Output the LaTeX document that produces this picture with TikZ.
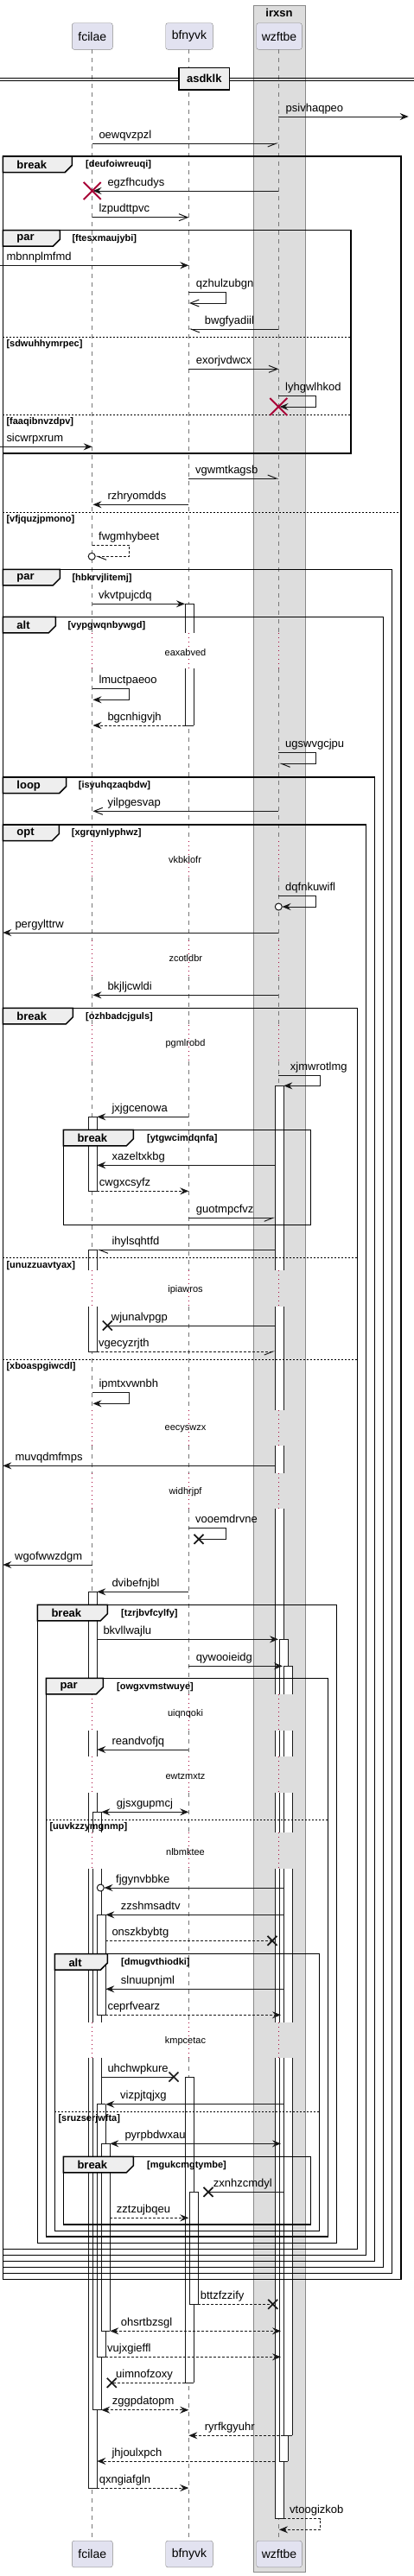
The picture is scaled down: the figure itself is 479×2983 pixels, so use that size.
\documentclass[tikz,border=0pt]{standalone}
\usepackage{fontspec}
\setmainfont{Liberation Sans}
\usetikzlibrary{arrows.meta}

\definecolor{partfill}{HTML}{E2E2F0}
\definecolor{partline}{HTML}{888888}
\definecolor{boxfill}{HTML}{DDDDDD}
\definecolor{tabfill}{HTML}{EEEEEE}
\definecolor{crimson}{HTML}{A80036}
\definecolor{lifegray}{HTML}{777777}
\definecolor{ink}{HTML}{181818}

\tikzset{
  partbox/.style={draw=partline, fill=partfill, rounded corners=2.5pt, minimum height=30.6pt, inner sep=0pt, font=\fontsize{14}{16}\selectfont},
  lifeline/.style={draw=lifegray, dash pattern=on 5pt off 5pt, line width=0.8pt},
  delayline/.style={draw=crimson, dash pattern=on 1pt off 4pt, line width=1pt},
  actline/.style={draw=ink, line width=1pt},
  msg/.style={draw=ink, line width=1pt},
  dashmsg/.style={msg, dash pattern=on 3pt off 2pt},
  arfull/.style={-{Stealth[length=10pt,width=8pt,inset=3.5pt]}},
  arboth/.style={{Stealth[length=10pt,width=8pt,inset=3.5pt]}-{Stealth[length=10pt,width=8pt,inset=3.5pt]}},
  aropen/.style={-{Straight Barb[length=10pt,width=8pt]}},
  halfE/.style={-{Straight Barb[harpoon,swap,length=10pt,width=8pt]}},
  halfEup/.style={-{Straight Barb[harpoon,length=10pt,width=8pt]}},
  halfW/.style={-{Straight Barb[harpoon,length=10pt,width=8pt]}},
  lbl/.style={anchor=base west, inner sep=0pt, font=\fontsize{13}{15}\selectfont},
  delaytxt/.style={inner sep=0pt, font=\fontsize{11}{13}\selectfont},
  grpline/.style={draw=black, line width=1.5pt},
  grptab/.style={draw=black, line width=1.5pt, fill=tabfill},
  grpkind/.style={inner sep=0pt, font=\bfseries\fontsize{13}{15}\selectfont},
  grpguard/.style={inner sep=0pt, font=\bfseries\fontsize{11}{13}\selectfont},
  grpsep/.style={draw=black, line width=0.8pt, dash pattern=on 2pt off 2pt},
  redx/.style={draw=crimson, line width=2pt},
  lostx/.style={draw=ink, line width=1.7pt}
}

% activation bar piece: x, top, bottom, top edge?, bottom edge?
\newcommand{\actseg}[5]{%
  \fill[white] (#1,#2) rectangle ({#1+10},#3);
  \draw[actline] (#1,#2) -- (#1,#3) ({#1+10},#2) -- ({#1+10},#3);
  \ifnum#4=1 \draw[actline] (#1,#2) -- ({#1+10},#2);\fi
  \ifnum#5=1 \draw[actline] (#1,#3) -- ({#1+10},#3);\fi}
% group frame: x1, x2, top, bottom, tab width, kind, guard, guard x
\newcommand{\grp}[8]{%
  \draw[grpline] (#1,#3) rectangle (#2,#4);
  \filldraw[grptab] (#1,#3) -- ({#1+#5},#3) -- ({#1+#5},{#3+10.5}) -- ({#1+#5-8},{#3+18.5}) -- (#1,{#3+18.5}) -- cycle;
  \node[grpkind, anchor=west] (#7k) at ({#1+16},{#3+10}) {#6};
  \node[grpguard, anchor=west] (#7) at (#8,{#3+10}) {[#7]};}
% else line: x1, x2, y, guard
\newcommand{\grpelse}[4]{%
  \draw[grpsep] (#1,#3) -- (#2,#3);
  \node[grpguard, anchor=west] (#4) at ({#1+4},{#3+8.5}) {[#4]};}
\newcommand{\redcross}[2]{\draw[redx] ({#1-10},{#2-10}) -- ({#1+10},{#2+10}) ({#1-10},{#2+10}) -- ({#1+10},{#2-10});}
\newcommand{\lostcross}[2]{\draw[lostx] ({#1-5.5},{#2-5.5}) -- ({#1+5.5},{#2+5.5}) ({#1-5.5},{#2+5.5}) -- ({#1+5.5},{#2-5.5});}

\begin{document}
\begin{tikzpicture}[x=1pt,y=-1pt]
  \useasboundingbox (0,0) rectangle (479,2983);

  % box round wzftbe
  \filldraw[fill=boxfill, draw=partline] (292.7,6) rectangle (353.3,2978.3);
  \node[grpkind] (irxsn) at (323,15) {irxsn};

  % participants
  \node[partbox, minimum width=47pt] (fcTop) at (106.8,42) {fcilae};
  \node[partbox, minimum width=54.6pt] (bfTop) at (219,42) {bfnyvk};
  \node[partbox, minimum width=52.6pt] (wzTop) at (323,42) {wzftbe};
  \node[partbox, minimum width=47pt] (fcBot) at (106.8,2957.5) {fcilae};
  \node[partbox, minimum width=54.6pt] (bfBot) at (219,2957.5) {bfnyvk};
  \node[partbox, minimum width=52.6pt] (wzBot) at (323,2957.5) {wzftbe};

  % lifelines, dotted where a delay is
  \foreach \lx in {106.7,218.3,322.3}{
    \foreach \a/\b in {57.3/733.3,774/974,1016/1089,1131/1187,1229/1471,1513/1633,1674/1706,1747/1962,2004/2034,2076/2122,2164/2342,2383/2941.7}
      \draw[lifeline] (\lx,\a) -- (\lx,\b);
    \foreach \a/\b in {733.3/774,974/1016,1089/1131,1187/1229,1471/1513,1633/1674,1706/1747,1962/2004,2034/2076,2122/2164,2342/2383}
      \draw[delayline] (\lx,\a) -- (\lx,\b);
  }

  % activations fcilae
  \actseg{102.3}{1293.3}{1379.3}{1}{1}
  \actseg{102.3}{1447.3}{1471}{1}{0}
  \actseg{102.3}{1513}{1565}{0}{1}
  \actseg{102.3}{1843.3}{1962}{1}{0}
  \actseg{102.3}{2004}{2034}{0}{0}
  \actseg{102.3}{2076}{2122}{0}{0}
  \actseg{102.3}{2164}{2342}{0}{0}
  \actseg{102.3}{2383}{2881}{0}{1}
  \actseg{107.3}{2098.3}{2122}{1}{0}
  \actseg{107.3}{2164}{2342}{0}{0}
  \actseg{107.3}{2383}{2790.7}{0}{1}
  \actseg{112.3}{2217.3}{2333.3}{1}{1}
  \actseg{112.3}{2436.7}{2729.3}{1}{1}
  \actseg{117.3}{2482.3}{2699.3}{1}{1}
  % activations bfnyvk
  \actseg{214}{699.3}{733.3}{1}{0}
  \actseg{214}{774}{840}{0}{1}
  \actseg{214}{2405}{2759.3}{1}{1}
  \actseg{219}{2538.3}{2668.3}{1}{1}
  % activations wzftbe
  \actseg{318.3}{1257.3}{1471}{1}{0}
  \actseg{318.3}{1513}{1633}{0}{0}
  \actseg{318.3}{1674}{1706}{0}{0}
  \actseg{318.3}{1747}{1962}{0}{0}
  \actseg{318.3}{2004}{2034}{0}{0}
  \actseg{318.3}{2076}{2122}{0}{0}
  \actseg{318.3}{2164}{2342}{0}{0}
  \actseg{318.3}{2383}{2916.7}{0}{1}
  \actseg{323.3}{1898.3}{1962}{1}{0}
  \actseg{323.3}{2004}{2034}{0}{0}
  \actseg{323.3}{2076}{2122}{0}{0}
  \actseg{323.3}{2164}{2342}{0}{0}
  \actseg{323.3}{2383}{2850}{0}{1}
  \actseg{328.3}{1929.3}{1962}{1}{0}
  \actseg{328.3}{2004}{2034}{0}{0}
  \actseg{328.3}{2076}{2122}{0}{0}
  \actseg{328.3}{2164}{2342}{0}{0}
  \actseg{328.3}{2383}{2820.3}{0}{1}

  % groups
  \grp{3.3}{464}{181}{2639.3}{80}{break}{deufoiwreuqi}{99}
  \grp{3.3}{406}{266.7}{525}{66}{par}{ftesxmaujybi}{83.3}
  \grpelse{3.3}{406}{390}{sdwuhhymrpec}
  \grpelse{3.3}{406}{480}{faaqibnvzdpv}
  \grpelse{3.3}{464}{593.3}{vfjquzjpmono}
  \grp{3.3}{453.3}{659.3}{2632.7}{66}{par}{hbkrvjlitemj}{83.3}
  \grp{3.3}{443.3}{714.3}{2625.7}{61}{alt}{vypgwqnbywgd}{78.3}
  \grp{3.3}{433.3}{900}{2618.7}{73.4}{loop}{isyuhqzaqbdw}{90.7}
  \grp{3.3}{423.3}{955}{2611.7}{65}{opt}{xgrqynlyphwz}{82.7}
  \grp{3.3}{413.3}{1167.3}{2604.3}{81}{break}{ozhbadcjguls}{99}
  \grp{73.3}{359.3}{1308.3}{1418.3}{81}{break}{ytgwcimdqnfa}{170}
  \grpelse{3.3}{413.3}{1456.7}{unuzzuavtyax}
  \grpelse{3.3}{413.3}{1574.3}{xboaspgiwcdl}
  \grp{43.3}{389.3}{1858.3}{2597.3}{81}{break}{tzrjbvfcylfy}{140}
  \grp{53.3}{379.3}{1943.3}{2590}{66}{par}{owgxvmstwuye}{135}
  \grpelse{53.3}{379.3}{2107.3}{uuvkzzymgnmp}
  \grp{63.3}{369.3}{2262.7}{2583.3}{61}{alt}{dmugvthiodki}{140}
  \grpelse{63.3}{369.3}{2445}{sruzserjwfta}
  \grp{73.3}{359.3}{2497.3}{2576}{81}{break}{mgukcmgtymbe}{170}

  % divider
  \draw[line width=1pt] (0,90) -- (479,90) (0,93.3) -- (479,93.3);
  \node[draw, line width=1.5pt, fill=tabfill, minimum width=58.7pt, minimum height=25.7pt, inner sep=0pt, font=\bfseries\fontsize{13}{15}\selectfont] (asdklk) at (236.3,91.2) {asdklk};

  % messages
  \draw[msg,arfull] (322.3,135) -- (472.7,135);
  \node[lbl] (psivhaqpeo) at (330.5,129) {psivhaqpeo};
  \draw[msg,halfE] (106.7,166) -- (322.3,166);
  \node[lbl] (oewqvzpzl) at (114.3,160) {oewqvzpzl};
  % break deufoiwreuqi
  \draw[msg,arfull] (322.3,221) -- (107.5,221);
  \node[lbl] (egzfhcudys) at (124.3,215) {egzfhcudys};
  \redcross{106.7}{221}
  \draw[msg,aropen] (106.7,251.7) -- (218.3,251.7);
  \node[lbl] (lzpudttpvc) at (114.3,245.7) {lzpudttpvc};
  % par ftesxmaujybi
  \draw[msg,arfull] (0,307.3) -- (218.3,307.3);
  \node[lbl] (mbnnplmfmd) at (7.3,301.3) {mbnnplmfmd};
  \draw[msg,aropen] (218.3,338.3) -- (261.7,338.3) -- (261.7,351) -- (219,351);
  \node[lbl] (qzhulzubgn) at (226.7,332.3) {qzhulzubgn};
  \draw[msg,halfW] (322.3,381) -- (218.3,381);
  \node[lbl] (bwgfyadiil) at (236.7,375) {bwgfyadiil};
  \draw[msg,aropen] (218.3,427.3) -- (322.3,427.3);
  \node[lbl] (exorjvdwcx) at (226.7,421.3) {exorjvdwcx};
  \draw[msg,arfull] (322.3,458.3) -- (365.7,458.3) -- (365.7,471) -- (323.5,471);
  \node[lbl] (lyhgwlhkod) at (330,452.3) {lyhgwlhkod};
  \redcross{322.3}{471}
  \draw[msg,arfull] (0,517.3) -- (106.7,517.3);
  \node[lbl] (sicwrpxrum) at (7.3,511.3) {sicwrpxrum};
  \draw[msg,halfEup] (218.3,554) -- (322.3,554);
  \node[lbl] (vgwmtkagsb) at (226,548) {vgwmtkagsb};
  \draw[msg,arfull] (218.3,584.3) -- (107.5,584.3);
  \node[lbl] (rzhryomdds) at (124.3,578.3) {rzhryomdds};
  % else vfjquzjpmono
  \draw[dashmsg,halfW] (106.7,631) -- (149.7,631) -- (149.7,644.3) -- (110.5,644.3);
  \draw[msg,fill=white] (106.2,644.3) circle (4pt);
  \node[lbl] (fwgmhybeet) at (114,625) {fwgmhybeet};
  % par hbkrvjlitemj
  \draw[msg,arfull] (106.7,699.3) -- (214,699.3);
  \node[lbl] (vkvtpujcdq) at (114,693.3) {vkvtpujcdq};
  % alt vypgwqnbywgd
  \node[delaytxt] (eaxabved) at (214.5,755.7) {eaxabved};
  \draw[msg,arfull] (106.7,797.3) -- (149.7,797.3) -- (149.7,810.3) -- (107.5,810.3);
  \node[lbl] (lmuctpaeoo) at (114.3,791.3) {lmuctpaeoo};
  \draw[dashmsg,arfull] (214,840) -- (107.5,840);
  \node[lbl] (bgcnhigvjh) at (124.3,834) {bgcnhigvjh};
  \draw[msg,halfW] (322.3,871.7) -- (365.7,871.7) -- (365.7,884.3) -- (323,884.3);
  \node[lbl] (ugswvgcjpu) at (330,865.7) {ugswvgcjpu};
  % loop isyuhqzaqbdw
  \draw[msg,aropen] (322.3,939.3) -- (107.5,939.3);
  \node[lbl] (yilpgesvap) at (124.3,933.3) {yilpgesvap};
  % opt xgrqynlyphwz
  \node[delaytxt] (vkbklofr) at (214,995.7) {vkbklofr};
  \draw[msg,arfull] (322.3,1037.3) -- (365.7,1037.3) -- (365.7,1050) -- (326.5,1050);
  \draw[msg,fill=white] (322.3,1050) circle (4pt);
  \node[lbl] (dqfnkuwifl) at (330,1031.3) {dqfnkuwifl};
  \draw[msg,arfull] (322.3,1080) -- (3.3,1080);
  \node[lbl] (pergylttrw) at (17.3,1074) {pergylttrw};
  \node[delaytxt] (zcotldbr) at (214.8,1110) {zcotldbr};
  \draw[msg,arfull] (322.3,1152.3) -- (107.5,1152.3);
  \node[lbl] (bkjljcwldi) at (124.3,1146.3) {bkjljcwldi};
  % break ozhbadcjguls
  \node[delaytxt] (pgmlrobd) at (214.5,1208.3) {pgmlrobd};
  \draw[msg,arfull] (322.3,1245.7) -- (370.7,1245.7) -- (370.7,1257.3) -- (328.3,1257.3);
  \node[lbl] (xjmwrotlmg) at (335.7,1239.7) {xjmwrotlmg};
  \draw[msg,arfull] (218.3,1293.3) -- (112.3,1293.3);
  \node[lbl] (jxjgcenowa) at (129.3,1287.3) {jxjgcenowa};
  % break ytgwcimdqnfa
  \draw[msg,arfull] (318.3,1349.3) -- (112.3,1349.3);
  \node[lbl] (xazeltxkbg) at (129.3,1343.3) {xazeltxkbg};
  \draw[dashmsg,arfull] (112.3,1379.3) -- (218.3,1379.3);
  \node[lbl] (cwgxcsyfz) at (114.7,1373.3) {cwgxcsyfz};
  \draw[msg,halfE] (218.3,1410.3) -- (318.3,1410.3);
  \node[lbl] (guotmpcfvz) at (226.7,1404.3) {guotmpcfvz};
  \draw[msg,halfW] (318.3,1447.3) -- (112.3,1447.3);
  \node[lbl] (ihylsqhtfd) at (129.3,1441.3) {ihylsqhtfd};
  % else unuzzuavtyax
  \node[delaytxt] (ipiawros) at (214.5,1493.3) {ipiawros};
  \draw[msg] (318.3,1535) -- (124.3,1535);
  \lostcross{124.3}{1535}
  \node[lbl] (wjunalvpgp) at (128.7,1529) {wjunalvpgp};
  \draw[dashmsg,halfE] (112.3,1565) -- (318.3,1565);
  \node[lbl] (vgecyzrjth) at (114,1559) {vgecyzrjth};
  % else xboaspgiwcdl
  \draw[msg,arfull] (106.7,1612.7) -- (149.7,1612.7) -- (149.7,1625.3) -- (107.5,1625.3);
  \node[lbl] (ipmtxvwnbh) at (114.3,1606.7) {ipmtxvwnbh};
  \node[delaytxt] (eecyswzx) at (214.5,1654.3) {eecyswzx};
  \draw[msg,arfull] (318.3,1697.3) -- (3.3,1697.3);
  \node[lbl] (muvqdmfmps) at (17.3,1691.3) {muvqdmfmps};
  \node[delaytxt] (widhrjpf) at (214.5,1727.3) {widhrjpf};
  \draw[msg] (218.3,1769.3) -- (261.7,1769.3) -- (261.7,1782.3) -- (230,1782.3);
  \lostcross{230}{1782.3}
  \node[lbl] (vooemdrvne) at (226,1763.3) {vooemdrvne};
  \draw[msg,arfull] (106.7,1812) -- (3.3,1812);
  \node[lbl] (wgofwwzdgm) at (17,1806) {wgofwwzdgm};
  \draw[msg,arfull] (218.3,1843.3) -- (112.3,1843.3);
  \node[lbl] (dvibefnjbl) at (129.3,1837.3) {dvibefnjbl};
  % break tzrjbvfcylfy
  \draw[msg,arfull] (112.3,1898.3) -- (322,1898.3);
  \node[lbl] (bkvllwajlu) at (119.3,1892.3) {bkvllwajlu};
  \draw[msg,arfull] (218.3,1929.3) -- (327,1929.3);
  \node[lbl] (qywooieidg) at (226.7,1923.3) {qywooieidg};
  % par owgxvmstwuye
  \node[delaytxt] (uiqnqoki) at (214.5,1984.3) {uiqnqoki};
  \draw[msg,arfull] (218.3,2026) -- (112.3,2026);
  \node[lbl] (reandvofjq) at (129.3,2020) {reandvofjq};
  \node[delaytxt] (ewtzmxtz) at (214.5,2056.7) {ewtzmxtz};
  \draw[msg,arboth] (117.3,2098.3) -- (218.3,2098.3);
  \node[lbl] (gjsxgupmcj) at (134.7,2092.3) {gjsxgupmcj};
  % else uuvkzzymgnmp
  \node[delaytxt] (nlbmktee) at (214.5,2144.3) {nlbmktee};
  \draw[msg,arfull] (328.3,2186) -- (120.5,2186);
  \draw[msg,fill=white] (116.3,2186) circle (4pt);
  \node[lbl] (fjgynvbbke) at (134,2180) {fjgynvbbke};
  \draw[msg,arfull] (328.3,2217.3) -- (122.3,2217.3);
  \node[lbl] (zzshmsadtv) at (139.7,2211.3) {zzshmsadtv};
  \draw[dashmsg] (122.3,2247.3) -- (315,2247.3);
  \lostcross{315}{2247.3}
  \node[lbl] (onszkbybtg) at (129.3,2241.3) {onszkbybtg};
  % alt dmugvthiodki
  \draw[msg,arfull] (328.3,2303.3) -- (122.3,2303.3);
  \node[lbl] (slnuupnjml) at (139.7,2297.3) {slnuupnjml};
  \draw[dashmsg,arfull] (122.3,2333.3) -- (325,2333.3);
  \node[lbl] (ceprfvearz) at (124.3,2327.3) {ceprfvearz};
  \node[delaytxt] (kmpcetac) at (214.5,2363.3) {kmpcetac};
  \draw[msg] (117.3,2405) -- (201,2405);
  \lostcross{201}{2405}
  \node[lbl] (uhchwpkure) at (124.3,2399) {uhchwpkure};
  \draw[msg,arfull] (328.3,2436.7) -- (122.3,2436.7);
  \node[lbl] (vizpjtqjxg) at (139,2430.7) {vizpjtqjxg};
  % else sruzserjwfta
  \draw[msg,arboth] (127.3,2482.3) -- (325,2482.3);
  \node[lbl] (pyrpbdwxau) at (144.3,2476.3) {pyrpbdwxau};
  % break mgukcmgtymbe
  \draw[msg] (328.3,2538.3) -- (241,2538.3);
  \lostcross{241}{2538.3}
  \node[lbl] (zxnhzcmdyl) at (246.7,2532.3) {zxnhzcmdyl};
  \draw[dashmsg,arfull] (127.3,2568.3) -- (218.3,2568.3);
  \node[lbl] (zztzujbqeu) at (134.7,2562.3) {zztzujbqeu};
  % after the groups
  \draw[dashmsg] (229,2668.3) -- (315.7,2668.3);
  \lostcross{315.7}{2668.3}
  \node[lbl] (bttzfzzify) at (231.7,2662.3) {bttzfzzify};
  \draw[dashmsg,arboth] (127.3,2699.3) -- (325,2699.3);
  \node[lbl] (ohsrtbzsgl) at (139.7,2693.3) {ohsrtbzsgl};
  \draw[dashmsg,arfull] (122.3,2729.3) -- (325,2729.3);
  \node[lbl] (vujxgieffl) at (124,2723.3) {vujxgieffl};
  \draw[dashmsg] (214,2759.3) -- (129.3,2759.3);
  \lostcross{129.3}{2759.3}
  \node[lbl] (uimnofzoxy) at (134,2753.3) {uimnofzoxy};
  \draw[dashmsg,arboth] (117.3,2790.7) -- (218.3,2790.7);
  \node[lbl] (zggpdatopm) at (129.7,2784.7) {zggpdatopm};
  \draw[dashmsg,arfull] (328.3,2820.3) -- (218.3,2820.3);
  \node[lbl] (ryrfkgyuhr) at (236.7,2814.3) {ryrfkgyuhr};
  \draw[dashmsg,arfull] (318.3,2850) -- (112.3,2850);
  \node[lbl] (jhjoulxpch) at (129.3,2844) {jhjoulxpch};
  \draw[dashmsg,arfull] (112.3,2881) -- (218.3,2881);
  \node[lbl] (qxngiafgln) at (114.7,2875) {qxngiafgln};
  \draw[dashmsg,arfull] (328.3,2916.7) -- (370.7,2916.7) -- (370.7,2929.3) -- (323,2929.3);
  \node[lbl] (vtoogizkob) at (335,2910.7) {vtoogizkob};
\end{tikzpicture}
\end{document}
